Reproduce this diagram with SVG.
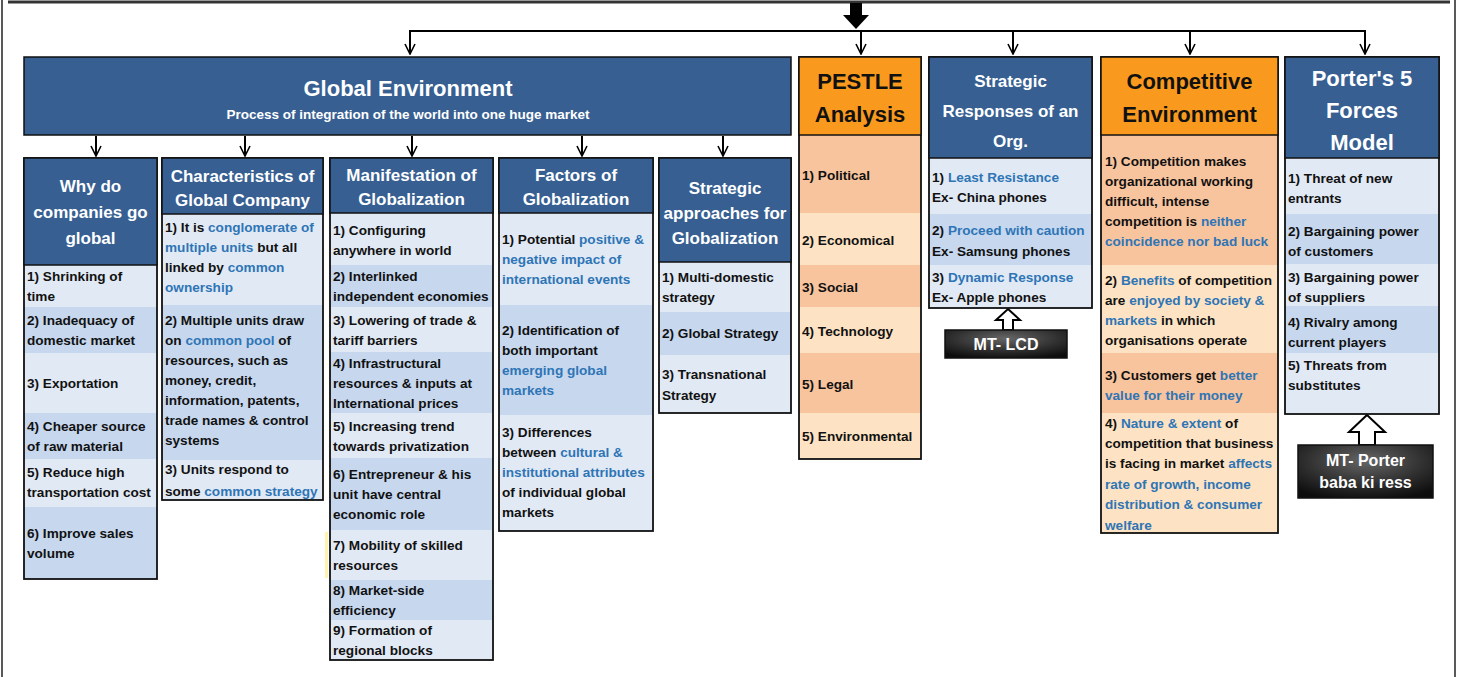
<svg xmlns="http://www.w3.org/2000/svg" width="1458" height="677" viewBox="0 0 1458 677">
  <defs>
    <style>
      text { font-family: "Liberation Sans", Arial, sans-serif; font-weight: bold; }
      .b { font-size: 13.6px; fill: #111; }
      .h { fill: #2e75b6; }
      .hd { font-size: 17px; fill: #fff; text-anchor: middle; }
      .hdL { font-size: 22px; fill: #fff; text-anchor: middle; }
      .hdO { font-size: 22px; fill: #111; text-anchor: middle; }
      .blue { fill: #375f92; stroke: #111; stroke-width: 1.5; }
      .orng { fill: #f99a1e; stroke: #111; stroke-width: 1.5; }
      .lt { fill: #e1e9f4; }
      .dk { fill: #c6d7ee; }
      .pk { fill: #f8c49e; }
      .pl { fill: #fde3c3; }
      .frame { fill: none; stroke: #111; stroke-width: 1.8; }
      .conn { fill: none; stroke: #000; stroke-width: 2; }
      .mt { fill: url(#mtGrad); stroke: #111; stroke-width: 1.5; }
      .mtx { font-size: 16px; fill: #fff; text-anchor: middle; }
      .hollow { fill: #fff; stroke: #000; stroke-width: 2; stroke-linejoin: miter; }
    </style>
    <marker id="vhead" viewBox="0 0 12 12" refX="11" refY="6" markerWidth="12" markerHeight="12" markerUnits="userSpaceOnUse" orient="auto">
      <path d="M1,1 L11,6 L1,11" fill="none" stroke="#000" stroke-width="1.6"/>
    </marker>
    <radialGradient id="mtGrad" cx="50%" cy="30%" r="75%">
      <stop offset="0" stop-color="#666"/>
      <stop offset="0.6" stop-color="#2e2e2e"/>
      <stop offset="1" stop-color="#0d0d0d"/>
    </radialGradient>
  </defs>

  <rect width="1458" height="677" fill="#fff"/>

  <!-- outer frame -->
  <line x1="2" y1="0" x2="2" y2="677" stroke="#222" stroke-width="1.5"/>
  <line x1="1455" y1="0" x2="1455" y2="677" stroke="#222" stroke-width="1.5"/>
  <line x1="8" y1="2" x2="1450" y2="2" stroke="#333" stroke-width="3"/>

  <!-- connectors -->
  <g id="connectors">
    <polygon points="850,3 862,3 862,15 869,15 856,29 843,15 850,15" fill="#000"/>
    <line class="conn" x1="409" y1="31" x2="1366" y2="31" stroke-width="2.5"/>
    <line class="conn" x1="410" y1="31" x2="410" y2="54" marker-end="url(#vhead)"/>
    <line class="conn" x1="861" y1="31" x2="861" y2="54" marker-end="url(#vhead)"/>
    <line class="conn" x1="1013" y1="31" x2="1013" y2="54" marker-end="url(#vhead)"/>
    <line class="conn" x1="1190" y1="31" x2="1190" y2="54" marker-end="url(#vhead)"/>
    <line class="conn" x1="1365" y1="31" x2="1365" y2="54" marker-end="url(#vhead)"/>

    <line class="conn" x1="96" y1="136" x2="96" y2="156" marker-end="url(#vhead)"/>
    <line class="conn" x1="245" y1="136" x2="245" y2="156" marker-end="url(#vhead)"/>
    <line class="conn" x1="412" y1="136" x2="412" y2="156" marker-end="url(#vhead)"/>
    <line class="conn" x1="582" y1="136" x2="582" y2="156" marker-end="url(#vhead)"/>
    <line class="conn" x1="723" y1="136" x2="723" y2="156" marker-end="url(#vhead)"/>

    <!-- hollow block arrows from the memory-tip boxes -->
    <polygon class="hollow" points="1008,309 1020,320 1013,320 1013,330 1003,330 1003,320 996,320"/>
    <polygon class="hollow" points="1367,415 1385,432 1375,432 1375,445 1359,445 1359,432 1349,432"/>
  </g>

  <!-- Global Environment -->
  <g id="global-environment">
    <rect class="blue" x="24" y="57" width="767" height="78"/>
    <text class="hdL" x="408" y="96">Global Environment</text>
    <text x="408" y="119" font-size="13.5" fill="#fff" text-anchor="middle">Process of integration of the world into one huge market</text>
  </g>

  <!-- Why do companies go global -->
  <g id="why-global">
    <rect class="lt" x="24" y="265" width="133" height="42"/>
    <rect class="dk" x="24" y="307" width="133" height="46"/>
    <rect class="lt" x="24" y="353" width="133" height="60"/>
    <rect class="dk" x="24" y="413" width="133" height="46"/>
    <rect class="lt" x="24" y="459" width="133" height="48"/>
    <rect class="dk" x="24" y="507" width="133" height="72"/>
    <rect class="frame" x="24" y="158" width="133" height="421"/>
    <rect class="blue" x="24" y="158" width="133" height="107"/>
    <text class="hd" x="90.5" y="192">Why do</text>
    <text class="hd" x="90.5" y="218">companies go</text>
    <text class="hd" x="90.5" y="244">global</text>
    <text class="b" x="27" y="281">1) Shrinking of</text>
    <text class="b" x="27" y="301">time</text>
    <text class="b" x="27" y="325">2) Inadequacy of</text>
    <text class="b" x="27" y="345">domestic market</text>
    <text class="b" x="27" y="388">3) Exportation</text>
    <text class="b" x="27" y="431">4) Cheaper source</text>
    <text class="b" x="27" y="451">of raw material</text>
    <text class="b" x="27" y="477">5) Reduce high</text>
    <text class="b" x="27" y="497">transportation cost</text>
    <text class="b" x="27" y="538">6) Improve sales</text>
    <text class="b" x="27" y="558">volume</text>
  </g>

  <!-- Characteristics of Global Company -->
  <g id="characteristics">
    <rect class="lt" x="162" y="214" width="161" height="91"/>
    <rect class="dk" x="162" y="305" width="161" height="155"/>
    <rect class="lt" x="162" y="460" width="161" height="40"/>
    <rect class="frame" x="162" y="158" width="161" height="342"/>
    <rect class="blue" x="162" y="158" width="161" height="56"/>
    <text class="hd" x="242.5" y="182">Characteristics of</text>
    <text class="hd" x="242.5" y="206">Global Company</text>
    <text class="b" x="165" y="232">1) It is <tspan class="h">conglomerate of</tspan></text>
    <text class="b" x="165" y="252"><tspan class="h">multiple units</tspan> but all</text>
    <text class="b" x="165" y="272">linked by <tspan class="h">common</tspan></text>
    <text class="b" x="165" y="292"><tspan class="h">ownership</tspan></text>
    <text class="b" x="165" y="325">2) Multiple units draw</text>
    <text class="b" x="165" y="345">on <tspan class="h">common pool</tspan> of</text>
    <text class="b" x="165" y="365">resources, such as</text>
    <text class="b" x="165" y="385">money, credit,</text>
    <text class="b" x="165" y="405">information, patents,</text>
    <text class="b" x="165" y="425">trade names &amp; control</text>
    <text class="b" x="165" y="445">systems</text>
    <text class="b" x="165" y="474">3) Units respond to</text>
    <text class="b" x="165" y="496">some <tspan class="h">common strategy</tspan></text>
  </g>

  <!-- Manifestation of Globalization -->
  <g id="manifestation">
    <rect class="lt" x="330" y="213" width="163" height="52"/>
    <rect class="dk" x="330" y="265" width="163" height="42"/>
    <rect class="lt" x="330" y="307" width="163" height="45"/>
    <rect class="dk" x="330" y="352" width="163" height="61"/>
    <rect class="lt" x="330" y="413" width="163" height="45"/>
    <rect class="dk" x="330" y="458" width="163" height="72"/>
    <rect class="lt" x="330" y="530" width="163" height="50"/>
    <rect class="dk" x="330" y="580" width="163" height="40"/>
    <rect class="lt" x="330" y="620" width="163" height="40"/>
    <rect x="325" y="532" width="3" height="46" fill="#fff3b0"/>
    <rect class="frame" x="330" y="158" width="163" height="502"/>
    <rect class="blue" x="330" y="158" width="163" height="55"/>
    <text class="hd" x="411.5" y="181">Manifestation of</text>
    <text class="hd" x="411.5" y="205">Globalization</text>
    <text class="b" x="333" y="235">1) Configuring</text>
    <text class="b" x="333" y="255">anywhere in world</text>
    <text class="b" x="333" y="281">2) Interlinked</text>
    <text class="b" x="333" y="301">independent economies</text>
    <text class="b" x="333" y="325">3) Lowering of trade &amp;</text>
    <text class="b" x="333" y="345">tariff barriers</text>
    <text class="b" x="333" y="368">4) Infrastructural</text>
    <text class="b" x="333" y="388">resources &amp; inputs at</text>
    <text class="b" x="333" y="408">International prices</text>
    <text class="b" x="333" y="431">5) Increasing trend</text>
    <text class="b" x="333" y="451">towards privatization</text>
    <text class="b" x="333" y="479">6) Entrepreneur &amp; his</text>
    <text class="b" x="333" y="499">unit have central</text>
    <text class="b" x="333" y="519">economic role</text>
    <text class="b" x="333" y="550">7) Mobility of skilled</text>
    <text class="b" x="333" y="570">resources</text>
    <text class="b" x="333" y="595">8) Market-side</text>
    <text class="b" x="333" y="615">efficiency</text>
    <text class="b" x="333" y="635">9) Formation of</text>
    <text class="b" x="333" y="655">regional blocks</text>
  </g>

  <!-- Factors of Globalization -->
  <g id="factors">
    <rect class="lt" x="499" y="213" width="154" height="92"/>
    <rect class="dk" x="499" y="305" width="154" height="110"/>
    <rect class="lt" x="499" y="415" width="154" height="116"/>
    <rect class="frame" x="499" y="158" width="154" height="373"/>
    <rect class="blue" x="499" y="158" width="154" height="55"/>
    <text class="hd" x="576" y="181">Factors of</text>
    <text class="hd" x="576" y="205">Globalization</text>
    <text class="b" x="502" y="244">1) Potential <tspan class="h">positive &amp;</tspan></text>
    <text class="b h" x="502" y="264">negative impact of</text>
    <text class="b h" x="502" y="284">international events</text>
    <text class="b" x="502" y="335">2) Identification of</text>
    <text class="b" x="502" y="355">both important</text>
    <text class="b h" x="502" y="375">emerging global</text>
    <text class="b h" x="502" y="395">markets</text>
    <text class="b" x="502" y="437">3) Differences</text>
    <text class="b" x="502" y="457">between <tspan class="h">cultural &amp;</tspan></text>
    <text class="b h" x="502" y="477">institutional attributes</text>
    <text class="b" x="502" y="497">of individual global</text>
    <text class="b" x="502" y="517">markets</text>
  </g>

  <!-- Strategic approaches for Globalization -->
  <g id="strategic-approaches">
    <rect class="lt" x="659" y="262" width="132" height="50"/>
    <rect class="dk" x="659" y="312" width="132" height="43"/>
    <rect class="lt" x="659" y="355" width="132" height="58"/>
    <rect class="frame" x="659" y="158" width="132" height="255"/>
    <rect class="blue" x="659" y="158" width="132" height="104"/>
    <text class="hd" x="725" y="194">Strategic</text>
    <text class="hd" x="725" y="219">approaches for</text>
    <text class="hd" x="725" y="244">Globalization</text>
    <text class="b" x="662" y="282">1) Multi-domestic</text>
    <text class="b" x="662" y="302">strategy</text>
    <text class="b" x="662" y="338">2) Global Strategy</text>
    <text class="b" x="662" y="379">3) Transnational</text>
    <text class="b" x="662" y="400">Strategy</text>
  </g>

  <!-- PESTLE Analysis -->
  <g id="pestle">
    <rect class="pk" x="799" y="135" width="122" height="78"/>
    <rect class="pl" x="799" y="213" width="122" height="52"/>
    <rect class="pk" x="799" y="265" width="122" height="42"/>
    <rect class="pl" x="799" y="307" width="122" height="46"/>
    <rect class="pk" x="799" y="353" width="122" height="60"/>
    <rect class="pl" x="799" y="413" width="122" height="46"/>
    <rect class="frame" x="799" y="57" width="122" height="402"/>
    <rect class="orng" x="799" y="57" width="122" height="78"/>
    <text class="hdO" x="860" y="89">PESTLE</text>
    <text class="hdO" x="860" y="122">Analysis</text>
    <text class="b" x="802" y="180">1) Political</text>
    <text class="b" x="802" y="245">2) Economical</text>
    <text class="b" x="802" y="292">3) Social</text>
    <text class="b" x="802" y="336">4) Technology</text>
    <text class="b" x="802" y="389">5) Legal</text>
    <text class="b" x="802" y="441">5) Environmental</text>
  </g>

  <!-- Strategic Responses of an Org. -->
  <g id="strategic-responses">
    <rect class="lt" x="929" y="158" width="163" height="56"/>
    <rect class="dk" x="929" y="214" width="163" height="51"/>
    <rect class="lt" x="929" y="265" width="163" height="43"/>
    <rect class="frame" x="929" y="57" width="163" height="251"/>
    <rect class="blue" x="929" y="57" width="163" height="101"/>
    <text class="hd" x="1010.5" y="87" font-size="19.5">Strategic</text>
    <text class="hd" x="1010.5" y="117" font-size="19.5">Responses of an</text>
    <text class="hd" x="1010.5" y="147" font-size="19.5">Org.</text>
    <text class="b" x="932" y="182">1) <tspan class="h">Least Resistance</tspan></text>
    <text class="b" x="932" y="202">Ex- China phones</text>
    <text class="b" x="932" y="235">2) <tspan class="h">Proceed with caution</tspan></text>
    <text class="b" x="932" y="256">Ex- Samsung phones</text>
    <text class="b" x="932" y="282">3) <tspan class="h">Dynamic Response</tspan></text>
    <text class="b" x="932" y="302">Ex- Apple phones</text>
  </g>

  <g id="mt-lcd">
    <rect class="mt" x="945" y="330" width="122" height="28"/>
    <text class="mtx" x="1006" y="350" font-size="15">MT- LCD</text>
  </g>

  <!-- Competitive Environment -->
  <g id="competitive-environment">
    <rect class="pk" x="1101" y="135" width="177" height="130"/>
    <rect class="pl" x="1101" y="265" width="177" height="88"/>
    <rect class="pk" x="1101" y="353" width="177" height="60"/>
    <rect class="pl" x="1101" y="413" width="177" height="120"/>
    <rect class="frame" x="1101" y="57" width="177" height="476"/>
    <rect class="orng" x="1101" y="57" width="177" height="78"/>
    <text class="hdO" x="1189.5" y="89" font-size="22.5">Competitive</text>
    <text class="hdO" x="1189.5" y="122" font-size="22.5">Environment</text>
    <text class="b" x="1105" y="166">1) Competition makes</text>
    <text class="b" x="1105" y="186">organizational working</text>
    <text class="b" x="1105" y="206">difficult, intense</text>
    <text class="b" x="1105" y="226">competition is <tspan class="h">neither</tspan></text>
    <text class="b h" x="1105" y="246">coincidence nor bad luck</text>
    <text class="b" x="1105" y="285">2) <tspan class="h">Benefits</tspan> of competition</text>
    <text class="b" x="1105" y="305">are <tspan class="h">enjoyed by society &amp;</tspan></text>
    <text class="b" x="1105" y="325"><tspan class="h">markets</tspan> in which</text>
    <text class="b" x="1105" y="345">organisations operate</text>
    <text class="b" x="1105" y="380">3) Customers get <tspan class="h">better</tspan></text>
    <text class="b h" x="1105" y="400">value for their money</text>
    <text class="b" x="1105" y="428">4) <tspan class="h">Nature &amp; extent</tspan> of</text>
    <text class="b" x="1105" y="448">competition that business</text>
    <text class="b" x="1105" y="468">is facing in market <tspan class="h">affects</tspan></text>
    <text class="b h" x="1105" y="489">rate of growth, income</text>
    <text class="b h" x="1105" y="509">distribution &amp; consumer</text>
    <text class="b h" x="1105" y="530">welfare</text>
  </g>

  <!-- Porter's 5 Forces Model -->
  <g id="porter">
    <rect class="lt" x="1285" y="158" width="154" height="56"/>
    <rect class="dk" x="1285" y="214" width="154" height="50"/>
    <rect class="lt" x="1285" y="264" width="154" height="42"/>
    <rect class="dk" x="1285" y="306" width="154" height="47"/>
    <rect class="lt" x="1285" y="353" width="154" height="61"/>
    <rect class="frame" x="1285" y="57" width="154" height="357"/>
    <rect class="blue" x="1285" y="57" width="154" height="101"/>
    <text class="hdL" x="1362" y="86">Porter's 5</text>
    <text class="hdL" x="1362" y="118">Forces</text>
    <text class="hdL" x="1362" y="150">Model</text>
    <text class="b" x="1288" y="183">1) Threat of new</text>
    <text class="b" x="1288" y="203">entrants</text>
    <text class="b" x="1288" y="236">2) Bargaining power</text>
    <text class="b" x="1288" y="256">of customers</text>
    <text class="b" x="1288" y="282">3) Bargaining power</text>
    <text class="b" x="1288" y="302">of suppliers</text>
    <text class="b" x="1288" y="327">4) Rivalry among</text>
    <text class="b" x="1288" y="347">current players</text>
    <text class="b" x="1288" y="370">5) Threats from</text>
    <text class="b" x="1288" y="390">substitutes</text>
  </g>

  <g id="mt-porter">
    <rect class="mt" x="1298" y="445" width="135" height="53"/>
    <text class="mtx" x="1365.5" y="466">MT- Porter</text>
    <text class="mtx" x="1365.5" y="488">baba ki ress</text>
  </g>
</svg>
